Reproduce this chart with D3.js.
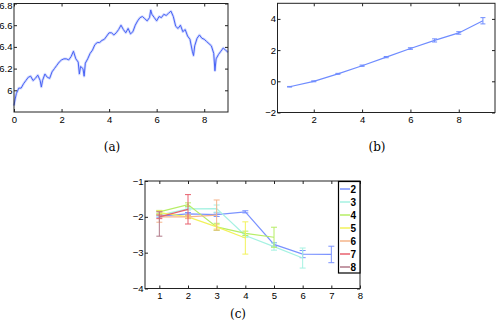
<!DOCTYPE html>
<html>
<head>
<meta charset="utf-8">
<style>
  body { margin: 0; background: #fff; }
  svg { display: block; background: #fff; }
  .tick text { font-family: "Liberation Sans", Arial, sans-serif; font-size: 9.5px; fill: #000; }
  .cap { font-family: "DejaVu Serif", "Liberation Serif", serif; font-size: 12px; fill: #000; }
  .leg text { font-family: "Liberation Sans", Arial, sans-serif; font-size: 10px; font-weight: bold; fill: #000; }
</style>
<script src="https://d3js.org/d3.v7.min.js"></script>
</head>
<body>
<div id="chart"></div>
<script>
// ---- panel (a): time series ----
var aT = [0, 0.05, 0.1, 0.2, 0.3, 0.4, 0.5, 0.6, 0.7, 0.8, 0.9, 1.0, 1.1, 1.15, 1.2, 1.3, 1.4, 1.5, 1.6, 1.7, 1.8, 1.9,
          2.0, 2.1, 2.2, 2.3, 2.4, 2.5, 2.6, 2.7, 2.75, 2.8, 2.9, 2.95, 3.0, 3.1, 3.2, 3.3, 3.4, 3.5, 3.6, 3.7, 3.8, 3.9,
          4.0, 4.1, 4.2, 4.3, 4.4, 4.5, 4.6, 4.7, 4.8, 4.9, 5.0, 5.1, 5.2, 5.3, 5.4, 5.5, 5.6, 5.7, 5.75, 5.8, 5.9,
          6.0, 6.1, 6.2, 6.3, 6.4, 6.5, 6.6, 6.7, 6.8, 6.9, 7.0, 7.1, 7.2, 7.3, 7.4, 7.5, 7.55, 7.6, 7.7, 7.8, 7.9,
          8.0, 8.1, 8.2, 8.3, 8.4, 8.45, 8.5, 8.6, 8.7, 8.8, 8.9, 9.0];
var aV = [5.86, 5.92, 5.97, 6.02, 6.02, 6.06, 6.09, 6.12, 6.13, 6.09, 6.11, 6.14, 6.09, 6.03, 6.09, 6.15, 6.12, 6.11, 6.17, 6.20, 6.23, 6.26,
          6.28, 6.29, 6.29, 6.28, 6.31, 6.36, 6.29, 6.26, 6.15, 6.22, 6.20, 6.13, 6.25, 6.29, 6.34, 6.37, 6.42, 6.44, 6.44, 6.46, 6.47, 6.50,
          6.53, 6.53, 6.51, 6.53, 6.56, 6.60, 6.56, 6.53, 6.57, 6.52, 6.54, 6.60, 6.64, 6.67, 6.68, 6.66, 6.64, 6.67, 6.74, 6.70, 6.67,
          6.64, 6.68, 6.67, 6.70, 6.69, 6.71, 6.73, 6.68, 6.59, 6.57, 6.60, 6.54, 6.56, 6.50, 6.47, 6.36, 6.32, 6.41, 6.48, 6.51, 6.48,
          6.47, 6.45, 6.43, 6.41, 6.34, 6.18, 6.29, 6.33, 6.36, 6.39, 6.37, 6.35];
var aXTicks = [0, 2, 4, 6, 8];
var aYTicks = [6, 6.2, 6.4, 6.6, 6.8];

// ---- panel (b): mean with error bars ----
var bX = [1, 2, 3, 4, 5, 6, 7, 8, 9];
var bY = [-0.35, 0.0, 0.48, 1.0, 1.55, 2.1, 2.62, 3.1, 3.88];
var bErr = [0.02, 0.03, 0.03, 0.04, 0.04, 0.05, 0.1, 0.08, 0.2];
var bXTicks = [2, 4, 6, 8];
var bYTicks = [-2, 0, 2, 4];

// ---- panel (c): several series with error bars ----
var cNames = ["2", "3", "4", "5", "6", "7", "8"];
var cColors = ["#7b93ff", "#a6f2e2", "#b6ee66", "#f2f25a", "#f5b48a", "#e8606e", "#b07888"];
var c2 = [-1.98, -1.92, -1.94, -1.86, -2.77, -3.04, -3.05], e2 = [0.03, 0.04, 0.05, 0.03, 0.05, 0.1, 0.23];
var c3 = [-1.95, -1.78, -1.77, -2.52, -2.83, -3.15],        e3 = [0.03, 0.03, 0.1, 0.05, 0.1, 0.28];
var c4 = [-1.86, -1.66, -2.28, -2.46, -2.57],               e4 = [0.04, 0.05, 0.1, 0.06, 0.28];
var c5 = [-1.88, -2.0, -2.28, -2.59],                       e5 = [0.05, 0.04, 0.06, 0.45];
var c6 = [-2.0, -2.0, -1.95],                               e6 = [0.15, 0.05, 0.42];
var c7 = [-2.0, -1.79],                                     e7 = [0.05, 0.41];
var c8 = [-2.2],                                            e8 = [0.34];
var cXTicks = [1, 2, 3, 4, 5, 6, 7, 8];
var cYTicks = [-4, -3, -2, -1];

var W = 496, H = 332;
var svg = d3.select("#chart").append("svg").attr("width", W).attr("height", H);

// MATLAB style box: inward ticks on all four sides
function box(g, x, y, xt, yt) {
  var r = x.range(), s = y.range();
  g.append("g").attr("transform", "translate(0," + s[0] + ")")
    .call(d3.axisBottom(x).tickValues(xt).tickSize(-3).tickPadding(4).tickFormat(d3.format("~g")));
  g.append("g").attr("transform", "translate(0," + s[1] + ")")
    .call(d3.axisTop(x).tickValues(xt).tickSize(-3).tickFormat(""));
  g.append("g").attr("class", "yleft").attr("transform", "translate(" + r[0] + ",0)")
    .call(d3.axisLeft(y).tickValues(yt).tickSize(-3).tickPadding(1.5).tickFormat(d3.format("~g")));
  g.append("g").attr("transform", "translate(" + r[1] + ",0)")
    .call(d3.axisRight(y).tickValues(yt).tickSize(-3).tickFormat(""));
  g.selectAll(".domain").remove();
  g.selectAll(".tick line").attr("stroke", "#222");
  g.append("rect").attr("x", r[0]).attr("y", s[1]).attr("width", r[1] - r[0]).attr("height", s[0] - s[1])
    .attr("fill", "none").attr("stroke", "#222").attr("stroke-width", 1);
}

function errbars(g, x, y, xs, ys, es, color, cap) {
  xs.forEach(function (xv, i) {
    var px = x(xv), y1 = y(ys[i] + es[i]), y2 = y(ys[i] - es[i]);
    g.append("line").attr("x1", px).attr("x2", px).attr("y1", y1).attr("y2", y2).attr("stroke", color);
    g.append("line").attr("x1", px - cap).attr("x2", px + cap).attr("y1", y1).attr("y2", y1).attr("stroke", color);
    g.append("line").attr("x1", px - cap).attr("x2", px + cap).attr("y1", y2).attr("y2", y2).attr("stroke", color);
  });
}

// (a)
var xa = d3.scaleLinear().domain([0, 9]).range([14, 228]);
var ya = d3.scaleLinear().domain([5.8, 6.8]).range([112, 3.5]);
var ga = svg.append("g");
var lineA = d3.line().x(function (d, i) { return xa(aT[i]); }).y(function (d) { return ya(d); });
ga.append("path").datum(aV).attr("d", lineA).attr("fill", "none")
  .attr("stroke", "#9aaaff").attr("stroke-width", 2.6).attr("stroke-opacity", 0.45).attr("stroke-linejoin", "round");
ga.append("path").datum(aV).attr("d", lineA).attr("fill", "none")
  .attr("stroke", "#4862f5").attr("stroke-width", 1).attr("stroke-linejoin", "round");
box(ga, xa, ya, aXTicks, aYTicks);
// keep the top label inside the page
ga.selectAll(".yleft .tick text").filter(function (d) { return d === 6.8; }).attr("dy", "0.5em");
svg.append("text").attr("class", "cap").attr("x", 112).attr("y", 151).attr("text-anchor", "middle").text("(a)");

// (b)
var xb = d3.scaleLinear().domain([0.5, 9.5]).range([277.5, 495]);
var yb = d3.scaleLinear().domain([-2, 5]).range([112.5, 3.3]);
var gb = svg.append("g");
gb.append("path").datum(bY).attr("fill", "none").attr("stroke", "#6f8cff").attr("stroke-width", 1.2)
  .attr("d", d3.line().x(function (d, i) { return xb(bX[i]); }).y(function (d) { return yb(d); }));
errbars(gb, xb, yb, bX, bY, bErr, "#6f8cff", 2.5);
box(gb, xb, yb, bXTicks, bYTicks);
svg.append("text").attr("class", "cap").attr("x", 377).attr("y", 151).attr("text-anchor", "middle").text("(b)");

// (c)
var xc = d3.scaleLinear().domain([0.5, 8]).range([145, 360]);
var yc = d3.scaleLinear().domain([-4, -1]).range([288.5, 181]);
var gc = svg.append("g");
var cMeans = [c2, c3, c4, c5, c6, c7, c8];
var cErrs = [e2, e3, e4, e5, e6, e7, e8];
cMeans.forEach(function (m, k) {
  var xs = m.map(function (d, i) { return cXTicks[i]; });
  gc.append("path").datum(m).attr("fill", "none").attr("stroke", cColors[k]).attr("stroke-width", 1.2)
    .attr("d", d3.line().x(function (d, i) { return xc(xs[i]); }).y(function (d) { return yc(d); }));
  errbars(gc, xc, yc, xs, m, cErrs[k], cColors[k], 3);
});
box(gc, xc, yc, cXTicks, cYTicks);

// legend
var leg = svg.append("g").attr("class", "leg");
leg.append("rect").attr("x", 338.5).attr("y", 181.5).attr("width", 21.5).attr("height", 91.5)
  .attr("fill", "#fff").attr("stroke", "#000").attr("stroke-width", 1.2);
cNames.forEach(function (n, k) {
  var yy = 189 + k * 13;
  leg.append("line").attr("x1", 340).attr("x2", 350).attr("y1", yy).attr("y2", yy)
    .attr("stroke", cColors[k]).attr("stroke-width", 1.5);
  leg.append("text").attr("x", 350.5).attr("y", yy + 3.5).text(n);
});
svg.append("text").attr("class", "cap").attr("x", 238).attr("y", 318).attr("text-anchor", "middle").text("(c)");
</script>
</body>
</html>
